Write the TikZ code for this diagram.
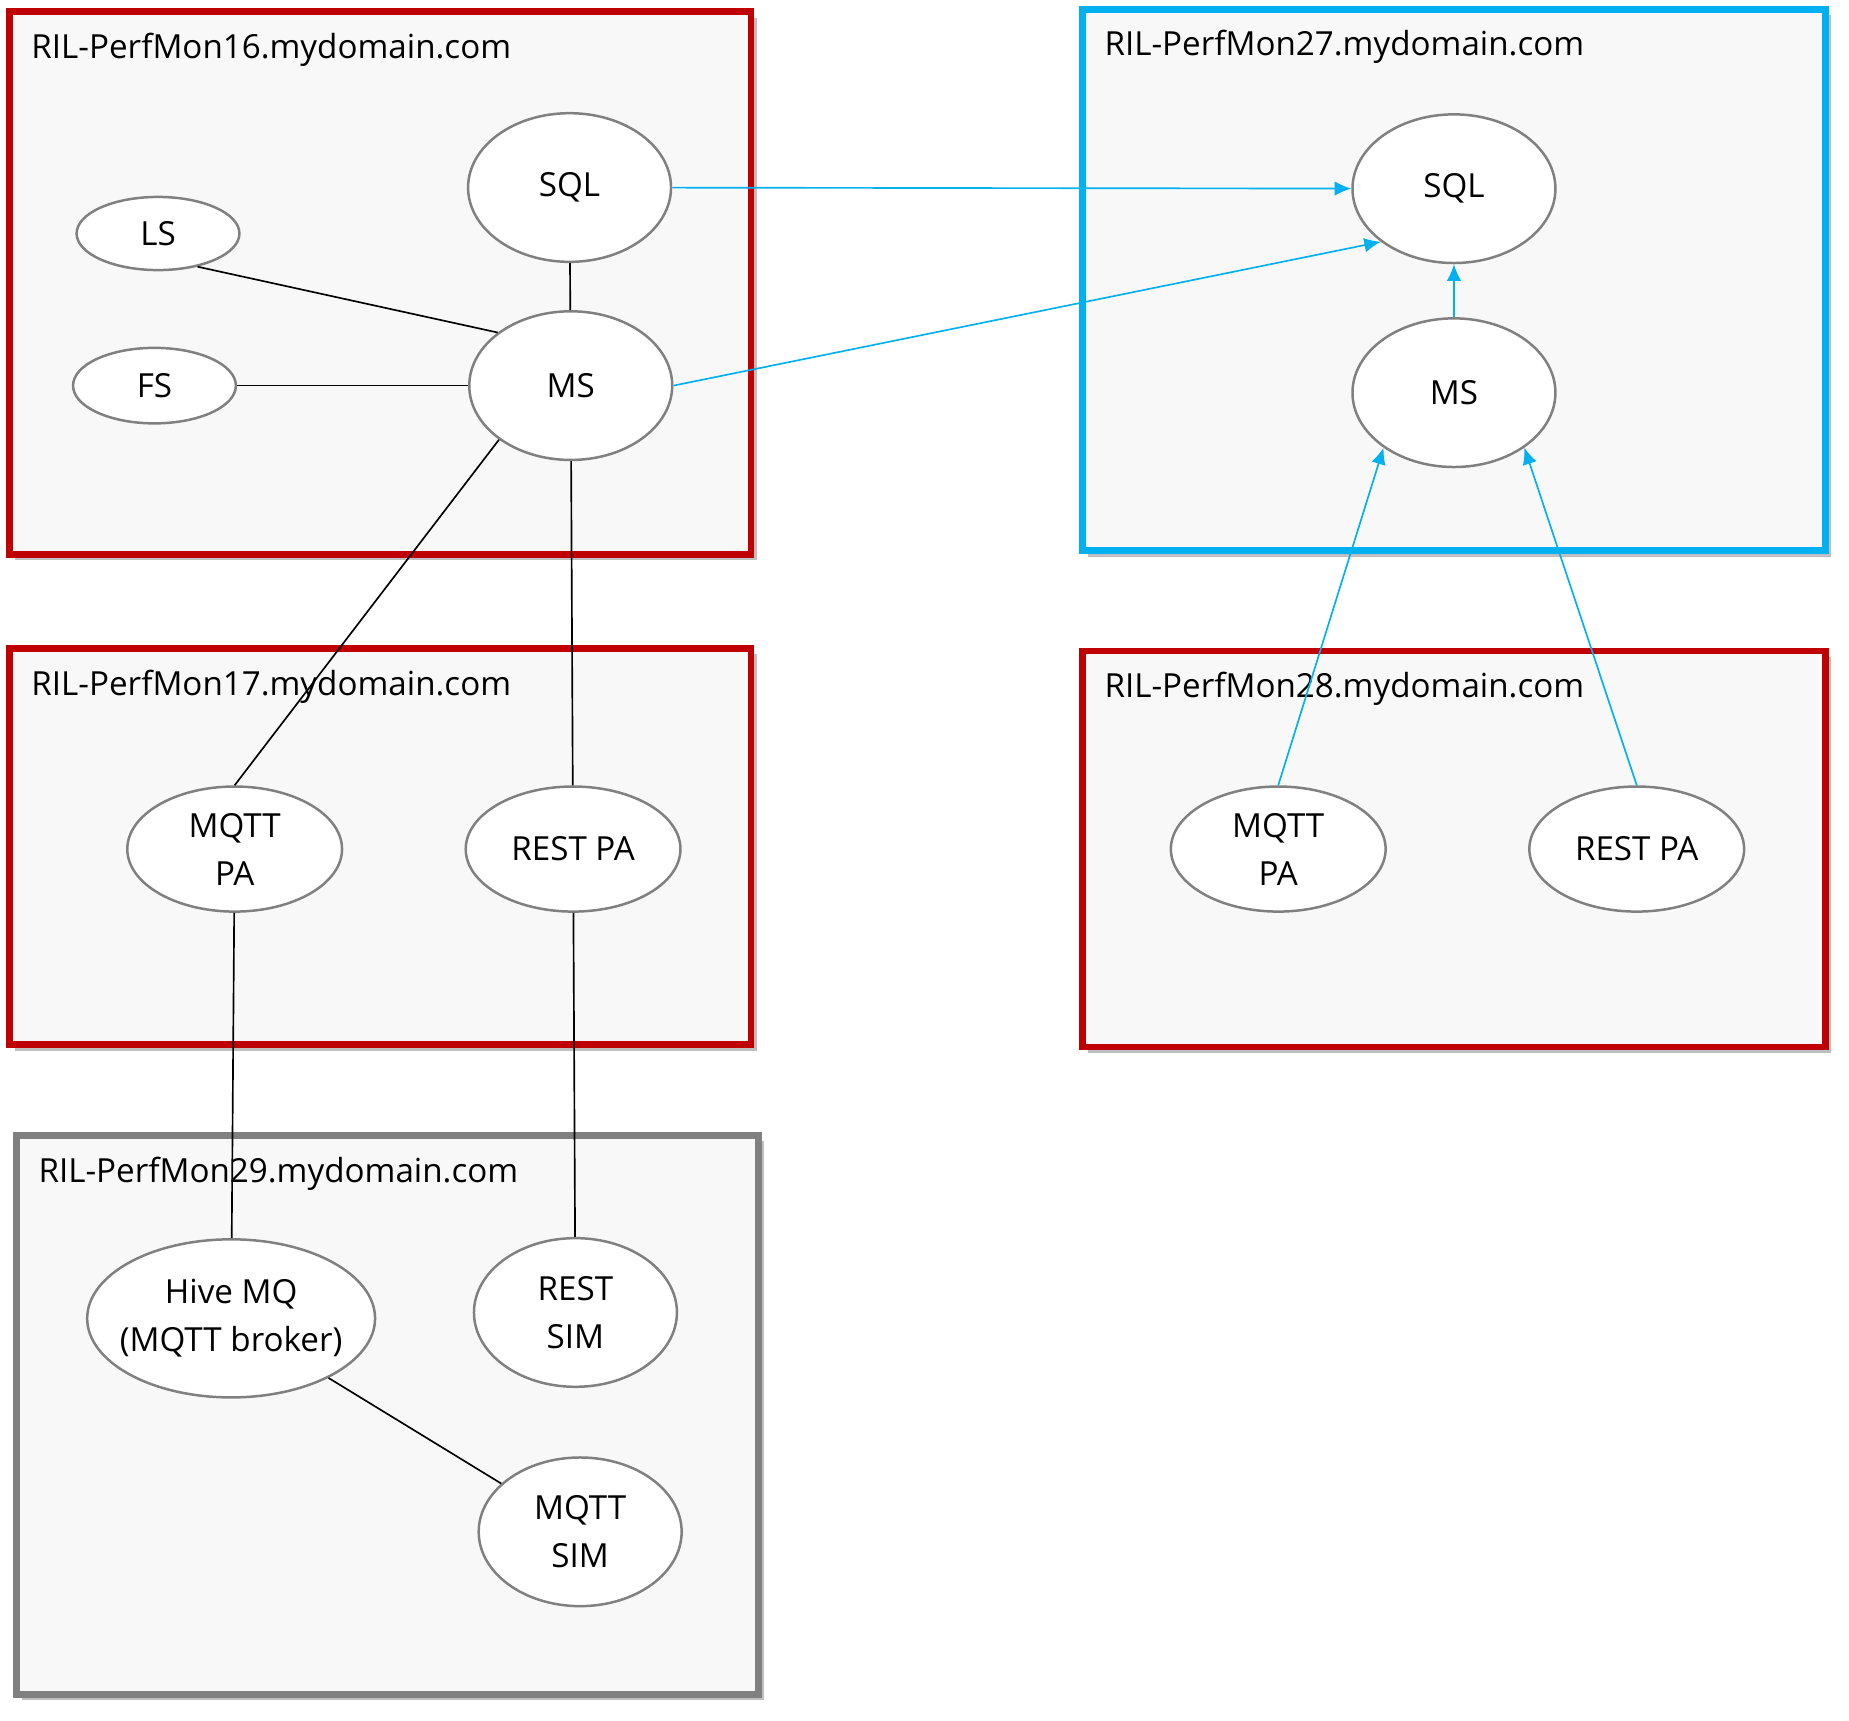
\documentclass[tikz,border=0pt]{standalone}
\usepackage{fontspec}
\setmainfont{Open Sans}
\usetikzlibrary{shapes,arrows.meta,positioning}
\definecolor{hostred}{RGB}{192,0,0}
\definecolor{hostblue}{RGB}{0,176,240}
\definecolor{hostgray}{RGB}{128,128,128}
\definecolor{hostfill}{RGB}{248,248,248}
\begin{document}
\begin{tikzpicture}[x=0.01cm,y=-0.01cm,font=\fontsize{8.0}{11.6}\selectfont]
    \tikzstyle{host} = [draw, line width=1.6pt, fill=hostfill]
    \tikzstyle{hostlabel} = [anchor=west, inner sep=0pt]
    \tikzstyle{svc} = [ellipse, draw=hostgray, line width=0.6pt, fill=white,
    inner sep=0pt, align=center]
    \tikzstyle{line} = [draw, line width=0.4pt]
    \tikzstyle{flow} = [draw=hostblue, line width=0.4pt, -{Latex[length=4pt,width=3.5pt]}]

    \useasboundingbox (0,0) rectangle (1568,1459);

    % Hosts
    \foreach \x/\y/\w/\h/\c/\n in {8/10/629/460/hostred/16, 918/8/630/459/hostblue/27,
      8/550/629/336/hostred/17, 918/552/630/336/hostred/28, 14/963/629/474/hostgray/29} {
      \fill[black!25] (\x+5,\y+5) rectangle ++(\w,\h);
      \draw[host, draw=\c] (\x,\y) rectangle ++(\w,\h);
      \node[hostlabel] at (\x+18,\y+32) {RIL-PerfMon\n.mydomain.com};
    }

    % Services
    \node[svc, minimum width=1.38cm, minimum height=0.62cm] (ls16) at (134,198) {LS};
    \node[svc, minimum width=1.38cm, minimum height=0.64cm] (fs16) at (131,327) {FS};
    \node[svc, minimum width=1.72cm, minimum height=1.26cm] (sql16) at (483,159) {SQL};
    \node[svc, minimum width=1.72cm, minimum height=1.26cm] (ms16) at (484,327) {MS};
    \node[svc, minimum width=1.72cm, minimum height=1.26cm] (sql27) at (1233,160) {SQL};
    \node[svc, minimum width=1.72cm, minimum height=1.26cm] (ms27) at (1233,333) {MS};
    \node[svc, minimum width=1.82cm, minimum height=1.06cm] (mqtt17) at (199,720) {MQTT\\PA};
    \node[svc, minimum width=1.82cm, minimum height=1.06cm] (rest17) at (486,720) {REST PA};
    \node[svc, minimum width=1.82cm, minimum height=1.06cm] (mqtt28) at (1084,720) {MQTT\\PA};
    \node[svc, minimum width=1.82cm, minimum height=1.06cm] (rest28) at (1388,720) {REST PA};
    \node[svc, minimum width=2.44cm, minimum height=1.34cm, inner xsep=-6pt] (hive29) at (196,1118) {Hive MQ\\(MQTT broker)};
    \node[svc, minimum width=1.72cm, minimum height=1.26cm] (restsim29) at (488,1113) {REST\\SIM};
    \node[svc, minimum width=1.72cm, minimum height=1.26cm] (mqttsim29) at (492,1299) {MQTT\\SIM};

    % Links
    \path[line] (ls16.320) -- (ms16.144);
    \path[line] (fs16) -- (ms16);
    \path[line] (sql16) -- (ms16);
    \path[line] (ms16.217) -- (mqtt17.north);
    \path[line] (ms16) -- (rest17);
    \path[line] (mqtt17) -- (hive29);
    \path[line] (rest17) -- (restsim29);
    \path[line] (hive29) -- (mqttsim29);
    \path[flow] (sql16) -- (sql27);
    \path[flow] (ms16.east) -- (sql27.216);
    \path[flow] (ms27) -- (sql27);
    \path[flow] (mqtt28.north) -- (ms27.218);
    \path[flow] (rest28.north) -- (ms27.322);
\end{tikzpicture}
\end{document}
